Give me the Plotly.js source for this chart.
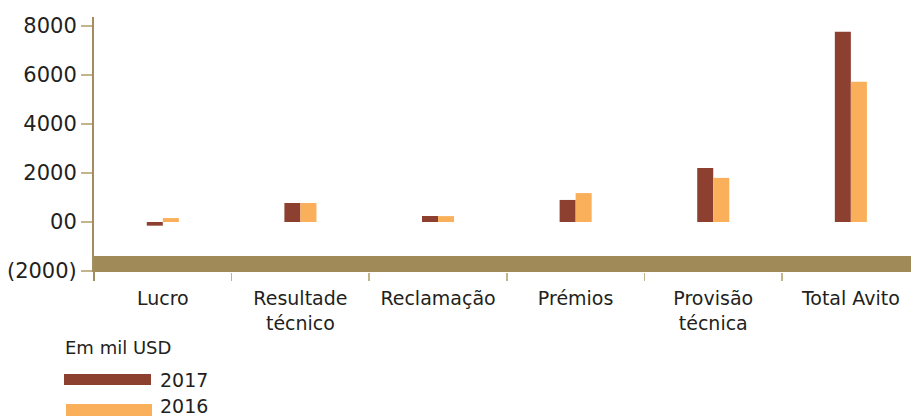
<!DOCTYPE html>
<html>
<head>
<meta charset="utf-8">
<script src="https://cdn.plot.ly/plotly-3.0.1.min.js"></script>
<style>html,body{margin:0;padding:0;background:#fff;}#chart{width:911px;height:416px;}</style>
</head>
<body>
<div id="chart"></div>
<script>
var categories = ["Lucro", "Resultade<br>técnico", "Reclamação", "Prémios", "Provisão<br>técnica", "Total Avito"];
var values2017 = [-150, 775, 245, 900, 2200, 7760];
var values2016 = [160, 775, 240, 1180, 1800, 5720];
var seriesNames = ["2017", "2016"];
var seriesColors = ["#8e4030", "#fab05a"];
var yTickVals = [-2000, 0, 2000, 4000, 6000, 8000];
var yTickText = ["(2000)", "00", "2000", "4000", "6000", "8000"];
var legendTitle = "Em mil USD";

var textColor = "#231f20";
var traces = [
  {type: "bar", x: categories, y: values2017, name: seriesNames[0], marker: {color: seriesColors[0]}, showlegend: false, hoverinfo: "skip"},
  {type: "bar", x: categories, y: values2016, name: seriesNames[1], marker: {color: seriesColors[1]}, showlegend: false, hoverinfo: "skip"}
];

// plot area: x 94..911, y 17..272
function px(x) { return (x - 94) / 817; }
function py(y) { return (272 - y) / 255; }

var shapes = [
  {type: "rect", xref: "paper", yref: "y", x0: 0, x1: 1, y0: -2041, y1: -1388, fillcolor: "#9f8a58", line: {width: 0}, layer: "below"},
  {type: "line", xref: "paper", yref: "paper", x0: 0, x1: 0, y0: 0, y1: py(281), line: {color: "#a38d5f", width: 2}},
  {type: "rect", xref: "paper", yref: "paper", x0: px(64), x1: px(151), y0: py(385), y1: py(374), fillcolor: seriesColors[0], line: {width: 0}},
  {type: "rect", xref: "paper", yref: "paper", x0: px(66), x1: px(152), y0: py(416), y1: py(404), fillcolor: seriesColors[1], line: {width: 0}}
];
var annotations = [
  {xref: "paper", yref: "paper", x: px(63), y: py(347), xanchor: "left", yanchor: "middle", text: legendTitle, showarrow: false, font: {size: 18, color: textColor, family: "DejaVu Sans"}},
  {xref: "paper", yref: "paper", x: px(158), y: py(380), xanchor: "left", yanchor: "middle", text: seriesNames[0], showarrow: false, font: {size: 19, color: textColor, family: "DejaVu Sans"}},
  {xref: "paper", yref: "paper", x: px(158), y: py(406), xanchor: "left", yanchor: "middle", text: seriesNames[1], showarrow: false, font: {size: 19, color: textColor, family: "DejaVu Sans"}}
];

var layout = {
  width: 911, height: 416,
  margin: {l: 94, r: 0, t: 17, b: 144, pad: 0},
  paper_bgcolor: "#ffffff", plot_bgcolor: "#ffffff",
  font: {family: "DejaVu Sans", color: textColor},
  barmode: "group", bargap: 0.767, bargroupgap: 0,
  showlegend: false,
  xaxis: {
    type: "category", range: [-0.5, 5.437], tickson: "boundaries",
    ticks: "outside", ticklen: 8, tickwidth: 1.5, tickcolor: "#c4b48a",
    ticklabelstandoff: 13,
    showgrid: false, zeroline: false, showline: false,
    tickfont: {size: 19, color: textColor, family: "DejaVu Sans"},
    fixedrange: true
  },
  yaxis: {
    range: [-2041, 8367], tickvals: yTickVals, ticktext: yTickText,
    ticks: "outside", ticklen: 11, tickwidth: 1.5, tickcolor: "#c4b48a",
    showline: true, linecolor: "#a38d5f", linewidth: 2,
    showgrid: false, zeroline: false,
    tickfont: {size: 21, color: textColor, family: "DejaVu Sans"},
    fixedrange: true
  },
  shapes: shapes,
  annotations: annotations
};

Plotly.newPlot("chart", traces, layout, {displayModeBar: false, staticPlot: true});
</script>
</body>
</html>
